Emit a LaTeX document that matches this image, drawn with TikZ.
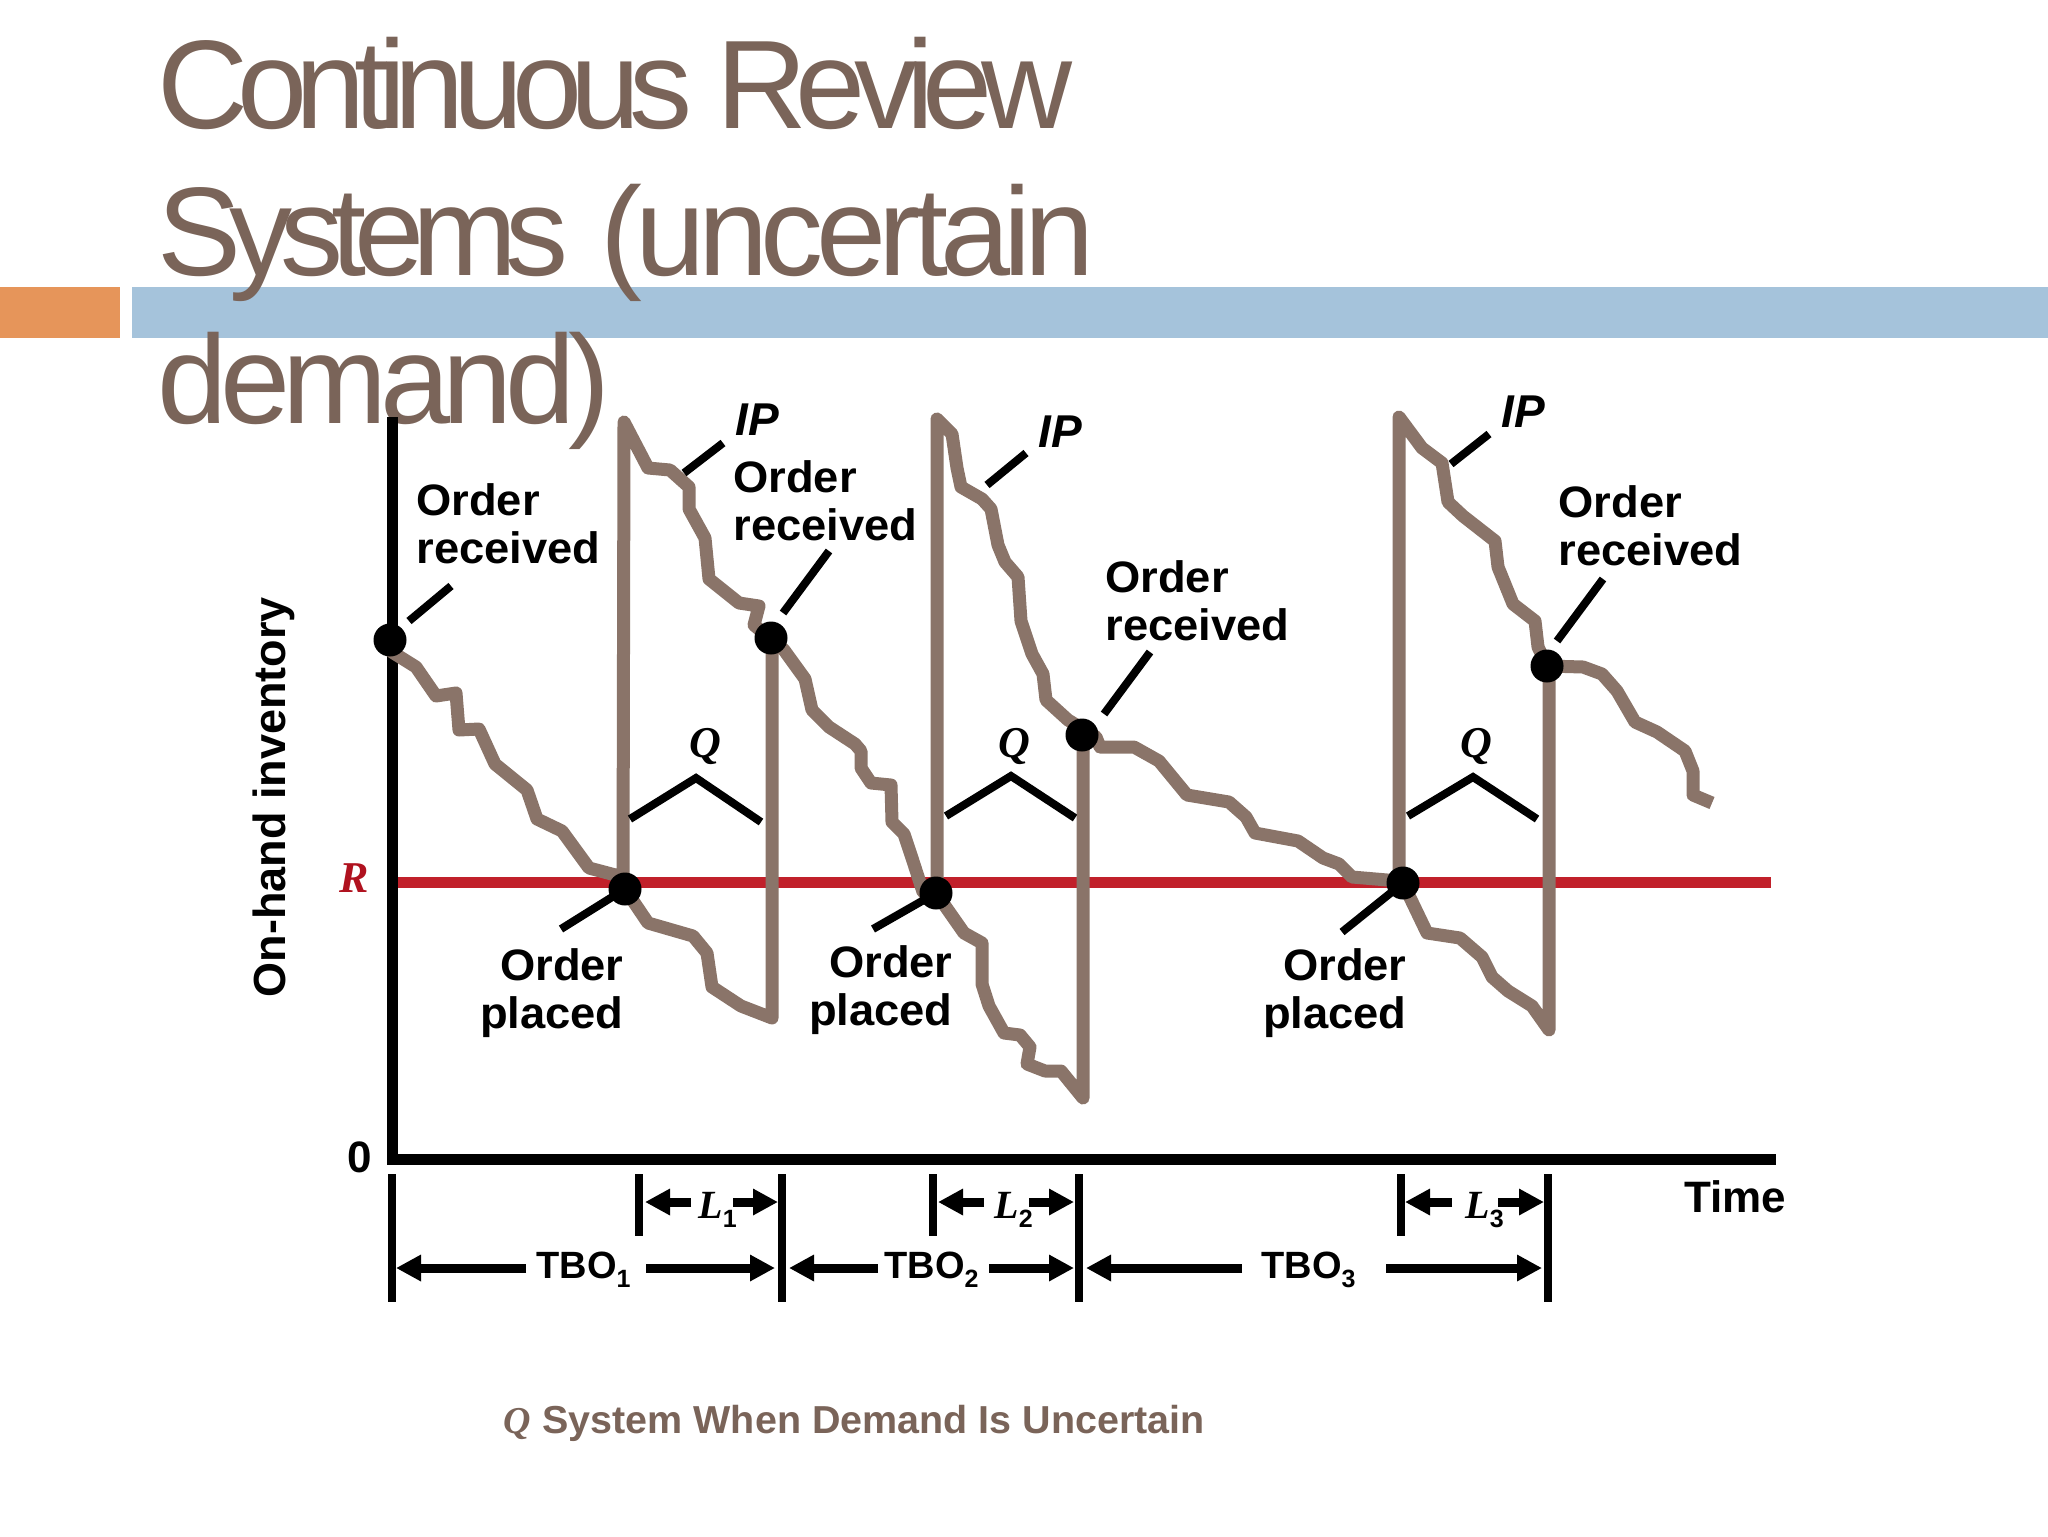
\documentclass[tikz,border=0pt]{standalone}
\usepackage{fontspec}
\usetikzlibrary{arrows.meta}
\setmainfont{Liberation Sans}
\newfontfamily\titlefont[LetterSpace=-9.0]{Liberation Sans}
\newfontfamily\titlefontb[LetterSpace=-9.6]{Liberation Sans}
\newfontfamily\titlefontc[LetterSpace=-5.9]{Liberation Sans}
\newfontfamily\labelfont[FakeStretch=1.03]{Liberation Sans}
\newfontfamily\capfont[FakeStretch=1.012]{Liberation Sans}
\newfontfamily\serifbi{Liberation Serif}
\definecolor{titlebrown}{HTML}{7A6459}
\definecolor{curvebrown}{HTML}{8A7469}
\definecolor{rred}{HTML}{C1202A}
\definecolor{rtext}{HTML}{B0121F}
\definecolor{barorange}{HTML}{E6955A}
\definecolor{barblue}{HTML}{A5C3DB}
\newcommand{\subd}[1]{\raisebox{-4.5pt}{\fontsize{12.5}{13}\selectfont #1}}
\tikzset{
  x=0.5pt,y=-0.5pt,
  titletext/.style={anchor=base west,inner sep=0pt,text=titlebrown,font=\fontsize{63}{63}\selectfont},
  ptlabel/.style={inner sep=0pt,align=left,font=\labelfont\bfseries\fontsize{22}{24}\selectfont},
  plabel/.style={inner sep=0pt,align=right,font=\labelfont\bfseries\fontsize{22}{24}\selectfont},
  iplabel/.style={anchor=base west,inner sep=0pt,font=\bfseries\itshape\fontsize{23}{24}\selectfont},
  qlabel/.style={anchor=base,inner sep=0pt,font=\serifbi\bfseries\itshape\fontsize{22}{24}\selectfont},
  tbolabel/.style={anchor=base west,inner sep=0pt,font=\bfseries\fontsize{19}{20}\selectfont},
  llabel/.style={anchor=base west,inner sep=0pt,font=\fontsize{20}{20}\selectfont},
  ipcurve/.style={draw=curvebrown,line width=6.5pt,line join=round,line cap=round},
  ipend/.style={draw=curvebrown,line width=6.5pt,line join=round,line cap=butt},
  axisline/.style={draw=black,line width=5.5pt},
  leader/.style={draw=black,line width=4pt,line join=miter},
  tickline/.style={draw=black,line width=4pt},
  spanarrow/.style={draw=black,line width=4.5pt,-{Triangle[length=12.5pt,width=12.5pt]}},
  evdot/.style={circle,fill=black,draw=none,minimum size=16.5pt,inner sep=0pt}
}
\begin{document}
\begin{tikzpicture}
\useasboundingbox (0,0) rectangle (2048,1536);
% slide bars
\fill[barorange] (0,287) rectangle (120,338);
\fill[barblue] (132,287) rectangle (2048,338);
% title
\node[titletext] (t1) at (157,128) {\titlefont Continuous Review};
\node[titletext] (t2) at (157,275) {\titlefontb Systems\hspace{5pt} {\titlefontc (uncertain}};
\node[titletext] (t3) at (157,423) {\titlefontc demand)};
% reorder point
\draw[draw=rred,line width=5.5pt] (392,882) -- (1771,882);
% axes
\draw[axisline] (392,417) -- (392,1159);
\draw[axisline] (387,1159) -- (1776,1159);
% dot centres
\coordinate (c0) at (390,640);
\coordinate (c1) at (625,889);
\coordinate (c2) at (771,638);
\coordinate (c3) at (936,893);
\coordinate (c4) at (1082,735);
\coordinate (c5) at (1403,883);
\coordinate (c6) at (1547,666);
% inventory curves
\draw[ipcurve] (392,652) -- (416,667) -- (436,696) -- (456,693) -- (459,730) -- (479,729) -- (495,764) -- (527,790) -- (537,819) -- (562,831) -- (589,868) -- (623,877) -- (624,422) -- (648,468) -- (670,470) -- (689,487) -- (689,509) -- (705,538) -- (709,579) -- (739,603) -- (759,606) -- (754,625) -- (784,650) -- (805,679) -- (812,710) -- (829,727) -- (855,744) -- (861,751) -- (861,768) -- (871,783) -- (891,785) -- (892,822) -- (904,834) -- (912,858) -- (923,892) -- (937,890) -- (937,419) -- (952,434) -- (957,468) -- (961,487) -- (982,499) -- (991,509) -- (998,545) -- (1005,562) -- (1018,577) -- (1021,621) -- (1032,654) -- (1043,674) -- (1046,700) -- (1068,720) -- (1096,737) -- (1100,747) -- (1134,747) -- (1159,761) -- (1187,795) -- (1229,802) -- (1246,817) -- (1255,833) -- (1298,841) -- (1323,858) -- (1339,864) -- (1352,877) -- (1399,881) -- (1399,417) -- (1422,448) -- (1442,463) -- (1448,502) -- (1463,516) -- (1495,541) -- (1498,567) -- (1513,604) -- (1535,621) -- (1538,647) -- (c6);
\draw[ipcurve] (c1) -- (648,923) -- (693,936) -- (707,953) -- (712,987) -- (741,1006) -- (772,1018) -- (772,640);
\draw[ipcurve] (c3) -- (964,933) -- (982,943) -- (982,984) -- (989,1006) -- (1004,1033) -- (1020,1035) -- (1030,1047) -- (1027,1064) -- (1045,1071) -- (1061,1071) -- (1083,1098) -- (1083,737);
\draw[ipcurve] (c5) -- (1427,933) -- (1460,938) -- (1482,957) -- (1492,977) -- (1508,991) -- (1532,1006) -- (1549,1030) -- (1549,668);
\draw[ipend] (c6) -- (1583,667) -- (1602,674) -- (1617,691) -- (1635,722) -- (1657,732) -- (1685,751) -- (1693,771) -- (1693,795) -- (1712,803);
% event dots
\node[evdot] (rc0) at (c0) {};
\node[evdot] (pl1) at (c1) {};
\node[evdot] (rc1) at (c2) {};
\node[evdot] (pl2) at (c3) {};
\node[evdot] (rc2) at (c4) {};
\node[evdot] (pl3) at (c5) {};
\node[evdot] (rc3) at (c6) {};
% labels
\node[ptlabel,anchor=base west] (or0) at (416,563) {Order\\received};
\node[ptlabel,anchor=base west] (or1) at (733,540) {Order\\received};
\node[ptlabel,anchor=base west] (or2) at (1105,640) {Order\\received};
\node[ptlabel,anchor=base west] (or3) at (1558,565) {Order\\received};
\node[plabel,anchor=base east] (op1) at (624,1028) {Order\\placed};
\node[plabel,anchor=base east] (op2) at (953,1025) {Order\\placed};
\node[plabel,anchor=base east] (op3) at (1407,1028) {Order\\placed};
\node[iplabel] (ip1) at (735,435) {IP};
\node[iplabel] (ip2) at (1038,447) {IP};
\node[iplabel] (ip3) at (1501,427) {IP};
% leaders
\draw[leader] (rc0) ++(19,-19) -- (451,586);
\draw[leader] (684,473) -- (723,443);
\draw[leader] (783,613) -- (829,551);
\draw[leader] (pl1.center) -- (561,929);
\draw[leader] (987,485) -- (1026,453);
\draw[leader] (1104,714) -- (1150,652);
\draw[leader] (pl2.center) -- (873,929);
\draw[leader] (pl3.center) -- (1342,932);
\draw[leader] (1451,464) -- (1489,434);
\draw[leader] (1557,641) -- (1603,579);
% Q brackets
\draw[leader] (630,819) -- (696,778) -- (761,822);
\draw[leader] (946,816) -- (1011,776) -- (1075,818);
\draw[leader] (1408,816) -- (1473,777) -- (1537,819);
\node[qlabel] (q1) at (705,757) {Q};
\node[qlabel] (q2) at (1014,757) {Q};
\node[qlabel] (q3) at (1476,757) {Q};
\node[qlabel,anchor=base west,text=rtext] (rlab) at (339,892) {R};
\node[anchor=base west,inner sep=0pt,font=\bfseries\fontsize{22}{24}\selectfont] (zero) at (347,1172) {0};
\node[anchor=base,inner sep=0pt,rotate=90,font=\bfseries\fontsize{22.5}{24}\selectfont] (yl) at (285,797) {On-hand inventory};
\node[anchor=base west,inner sep=0pt,font=\bfseries\fontsize{22}{24}\selectfont] (tl) at (1684,1212) {Time};
% spans
\draw[tickline] (392,1174) -- (392,1302);
\draw[tickline] (782,1174) -- (782,1302);
\draw[tickline] (1079,1174) -- (1079,1302);
\draw[tickline] (1548,1174) -- (1548,1302);
\draw[tickline] (639,1174) -- (639,1236);
\draw[tickline] (933,1174) -- (933,1236);
\draw[tickline] (1401,1174) -- (1401,1236);
\draw[spanarrow] (526,1268) -- (396,1268);
\draw[spanarrow] (646,1268) -- (775,1268);
\draw[spanarrow] (878,1268) -- (789,1268);
\draw[spanarrow] (989,1268) -- (1074,1268);
\draw[spanarrow] (1242,1268) -- (1086,1268);
\draw[spanarrow] (1386,1268) -- (1542,1268);
\draw[spanarrow] (691,1202) -- (645,1202);
\draw[spanarrow] (733,1202) -- (778,1202);
\draw[spanarrow] (984,1202) -- (938,1202);
\draw[spanarrow] (1029,1202) -- (1074,1202);
\draw[spanarrow] (1452,1202) -- (1405,1202);
\draw[spanarrow] (1498,1202) -- (1544,1202);
\node[tbolabel] (tbo1) at (536,1278) {TBO\subd{1}};
\node[tbolabel] (tbo2) at (884,1278) {TBO\subd{2}};
\node[tbolabel] (tbo3) at (1261,1278) {TBO\subd{3}};
\node[llabel] (l1) at (698,1218) {{\serifbi\bfseries\itshape L}\bfseries\subd{1}};
\node[llabel] (l2) at (994,1218) {{\serifbi\bfseries\itshape L}\bfseries\subd{2}};
\node[llabel] (l3) at (1465,1218) {{\serifbi\bfseries\itshape L}\bfseries\subd{3}};
% caption
\node[anchor=base west,inner sep=0pt,text=titlebrown,font=\serifbi\bfseries\itshape\fontsize{19}{20}\selectfont] (capq) at (503,1433) {Q};
\node[anchor=base west,inner sep=0pt,text=titlebrown,font=\capfont\bfseries\fontsize{19.5}{20}\selectfont] (cap) at (542,1433) {System When Demand Is Uncertain};
\end{tikzpicture}
\end{document}
